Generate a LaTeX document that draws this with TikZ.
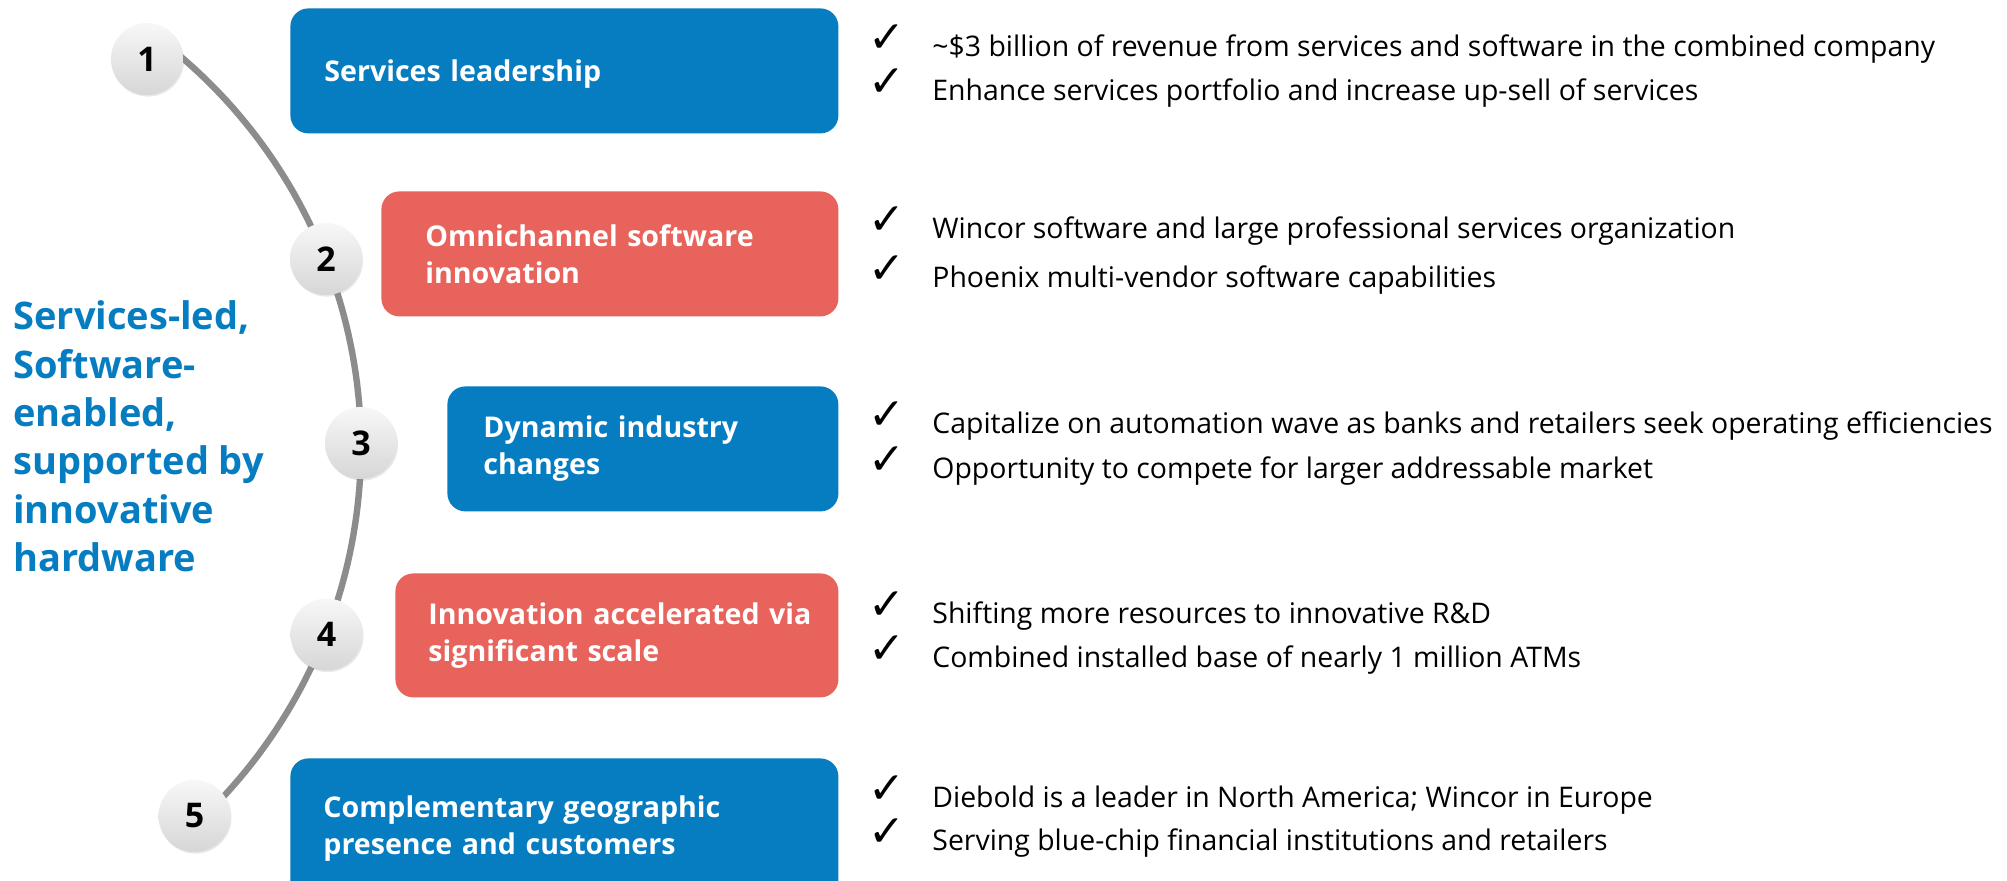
\documentclass[tikz,border=0pt]{standalone}
\usepackage{fontspec}
\setmainfont{Open Sans}
\newfontfamily\chkfont{DejaVu Sans}
\usetikzlibrary{shadows}
\definecolor{dblue}{HTML}{067CC1}
\definecolor{dred}{HTML}{E8635C}
\definecolor{arcgray}{HTML}{8C8C8C}
\begin{document}
\begin{tikzpicture}[x=0.5pt,y=-0.5pt,
 box/.style={rounded corners=9pt, inner ysep=0pt, align=left, text=white,
   font=\fontsize{14.3}{18.5}\selectfont\bfseries, anchor=north west, minimum height=62.5pt},
 bluebox/.style={box, fill=dblue},
 redbox/.style={box, fill=dred},
 num/.style={circle, minimum size=36pt, inner sep=0pt, top color=white!97!black,
   bottom color=black!16, font=\fontsize{17}{17}\selectfont\bfseries,
   drop shadow={opacity=0.18, shadow xshift=0.5pt, shadow yshift=-0.8pt}},
 chk/.style={anchor=base, inner sep=0pt, font=\chkfont\bfseries\fontsize{22}{22}\selectfont},
 item/.style={anchor=base west, inner sep=0pt, font=\fontsize{14.2}{14.2}\selectfont},
]
\useasboundingbox[fill=white] (0,0) rectangle (2007,880);

% spine
\draw[arcgray, line width=3.2pt] plot[domain=-51:44, samples=90]
  ({-152+513*cos(\x)},{447+513*sin(\x)});

% numbered circles
\node[num] (c1) at (147,59) {1};
\node[num] (c2) at (326,259) {2};
\node[num] (c3) at (361,443) {3};
\node[num] (c4) at (326.5,634.5) {4};
\node[num] (c5) at (194.5,816) {5};

% boxes
\node[bluebox, minimum width=274pt, inner xsep=17pt, text width=240pt, text depth=0pt] (b1) at (290,8) {\mbox{Services leadership}};
\node[redbox, minimum width=228.5pt, inner xsep=22pt, text width=184.5pt] (b2) at (381,191) {\mbox{Omnichannel software}\\innovation};
\node[bluebox, minimum width=195.5pt, inner xsep=18pt, text width=159.5pt] (b3) at (447,386) {\mbox{Dynamic industry}\\changes};
\node[redbox, minimum width=221.5pt, inner xsep=16.5pt, text width=188.5pt, minimum height=62pt] (b4) at (395,573) {\mbox{Innovation accelerated via}\\\mbox{significant scale}};
\node[bluebox, minimum width=274pt, inner xsep=16.5pt, text width=241pt, minimum height=70pt] (b5) at (290,758) {\mbox{Complementary geographic}\\\mbox{presence and customers}};

% left statement
\node[anchor=west, inner sep=0pt, align=left, text=dblue,
  font=\fontsize{19}{24.2}\selectfont\bfseries] (lead) at (13,436.5)
  {Services-led,\\Software-\\enabled,\\supported by\\innovative\\hardware};

% bullets
\node[chk] (k11) at (887,52) {✓};
\node[item] (t11) at (932,56) {\textasciitilde\$3 billion of revenue from services and software in the combined company};
\node[chk] (k12) at (887,96) {✓};
\node[item] (t12) at (932,100) {Enhance services portfolio and increase up-sell of services};

\node[chk] (k21) at (887,234) {✓};
\node[item] (t21) at (932,238) {Wincor software and large professional services organization};
\node[chk] (k22) at (887,283) {✓};
\node[item] (t22) at (932,287) {Phoenix multi-vendor software capabilities};

\node[chk] (k31) at (887,429) {✓};
\node[item] (t31) at (932,433) {Capitalize on automation wave as banks and retailers seek operating efficiencies};
\node[chk] (k32) at (887,474) {✓};
\node[item] (t32) at (932,478) {Opportunity to compete for larger addressable market};

\node[chk] (k41) at (887,619) {✓};
\node[item] (t41) at (932,623) {Shifting more resources to innovative R\&D};
\node[chk] (k42) at (887,663) {✓};
\node[item] (t42) at (932,667) {Combined installed base of nearly 1 million ATMs};

\node[chk] (k51) at (887,803) {✓};
\node[item] (t51) at (932,807) {Diebold is a leader in North America; Wincor in Europe};
\node[chk] (k52) at (887,846) {✓};
\node[item] (t52) at (932,850) {Serving blue-chip financial institutions and retailers};
\end{tikzpicture}
\end{document}
